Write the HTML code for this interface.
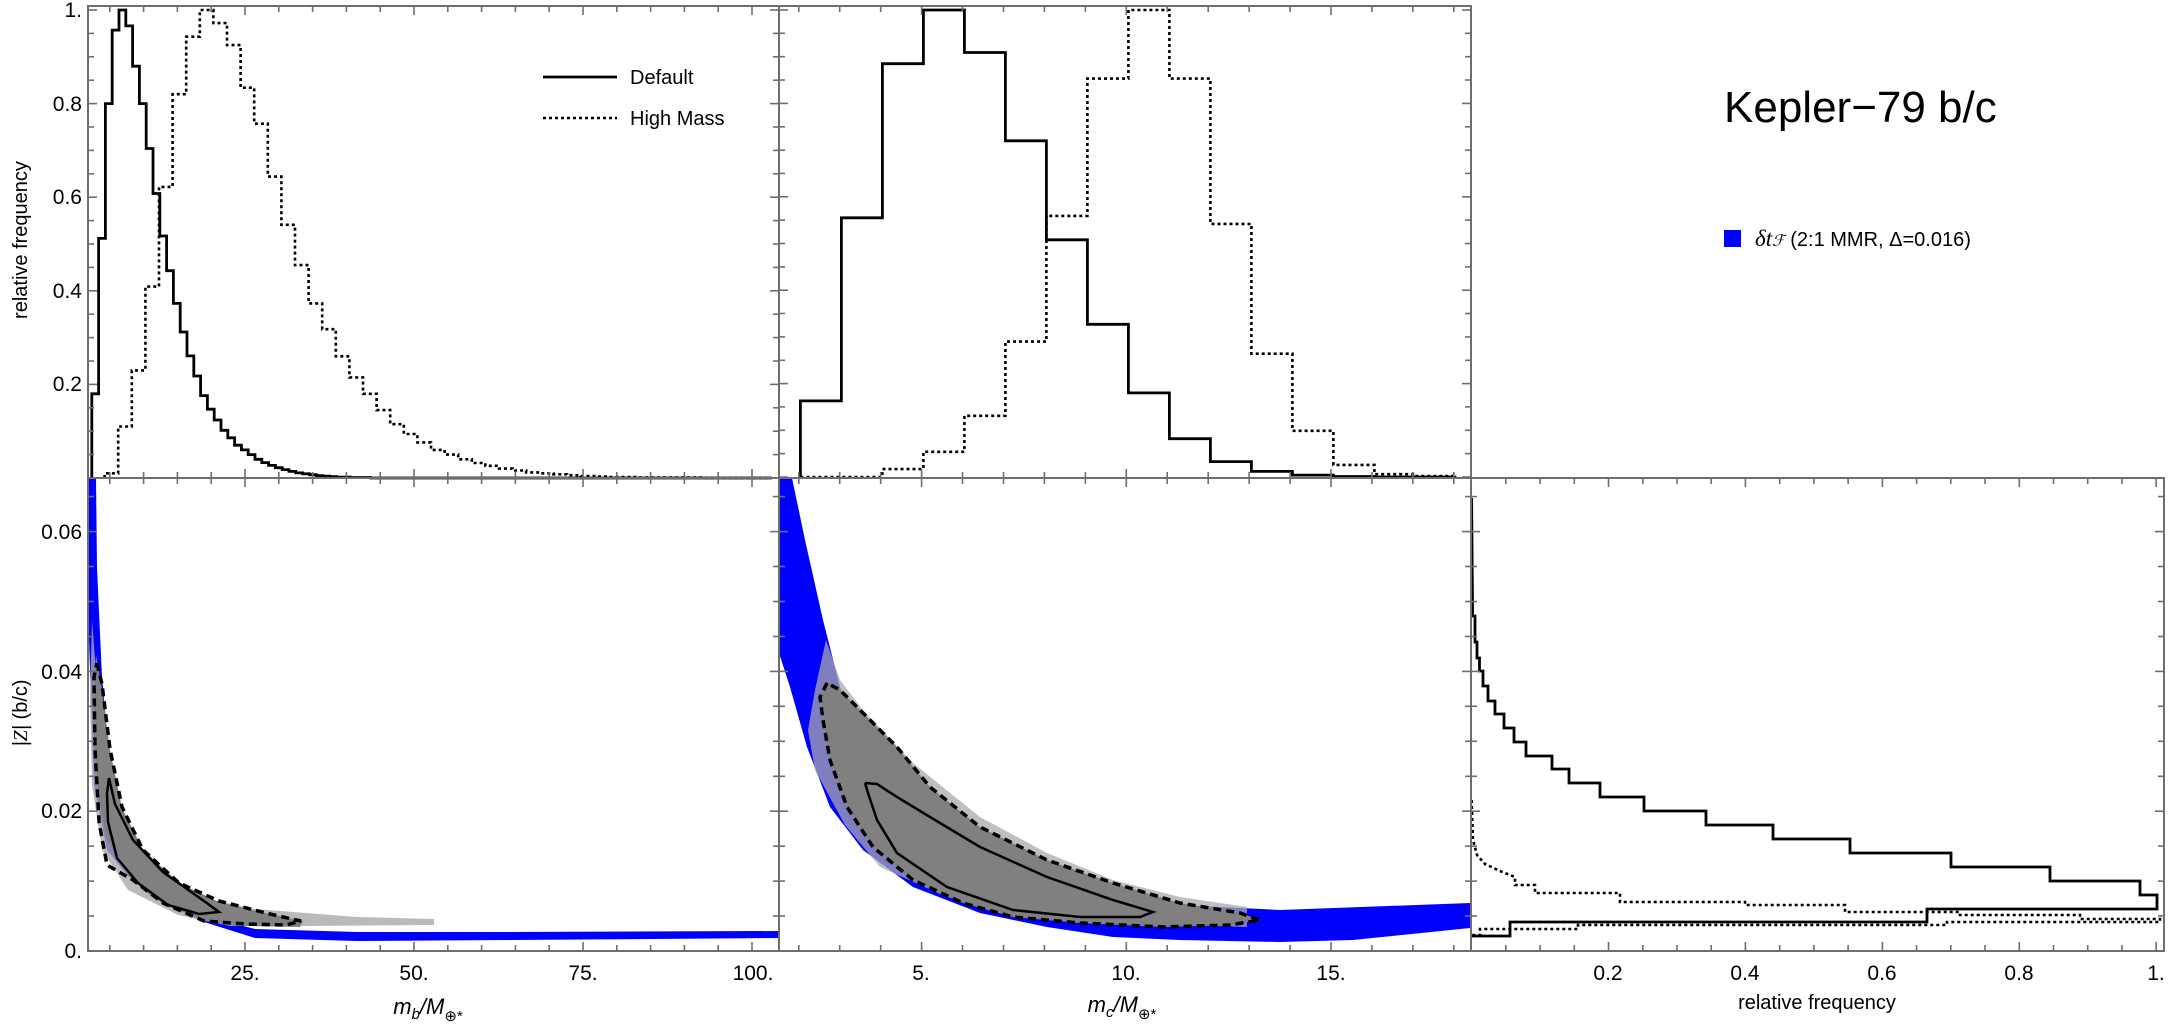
<!DOCTYPE html>
<html><head><meta charset="utf-8"><style>
html,body{margin:0;padding:0;background:#fff;}
svg{display:block;font-family:"Liberation Sans",sans-serif;}
</style></head><body>
<svg id="s" width="2169" height="1027" viewBox="0 0 2169 1027" xmlns="http://www.w3.org/2000/svg">
<rect width="2169" height="1027" fill="#fff"/>
<g id="bl">
<polygon fill="#0000ff" points="88,478 96,478 97,568 102,677 112,785 128,840 153,880 204,916 255,929 357,932 510,932 779,931 779,938 510,940 357,941 255,938 204,922 153,898 128,876 107,850 94,785 89,640 88,570"/>
<polygon fill="#a9a9a9" opacity="0.8" points="92,620 102,750 117,822 153,872 204,898 255,909 357,917 434,919 434,925 306,926 230,926 178,915 128,890 102,850 92,785 90,700"/>
<polygon fill="#808080" points="96,655 102,690 110,750 122,808 143,850 179,883 219,902 270,914 303,921 300,927 245,926 204,921 163,903 133,877 107,840 99,800 95,750 94,690"/>
<polyline fill="none" stroke="#000" stroke-width="3.5" stroke-dasharray="8 5" points="97,663 102,684 110,749 122,807 143,850 179,883 219,901 270,914 301,921 286,925 245,924 204,921 163,903 133,880 107,865 99,822 95,749 94,677 97,663"/>
<polyline fill="none" stroke="#000" stroke-width="2.5" points="109,778 115,804 133,840 163,872 204,901 219,912 199,914 168,905 138,883 117,858 108,822 107,793 109,778"/>
</g>
<g id="bm">
<polygon fill="#0000ff" points="779,478 792,478 805,540 823,620 840,687 867,753 913,807 980,847 1047,873 1113,893 1180,905 1280,910 1470,903 1470,928 1353,940 1280,942 1180,940 1113,937 1047,927 980,913 913,887 863,850 830,807 807,747 790,687 779,653"/>
<polygon fill="#a9a9a9" opacity="0.75" points="826,640 840,680 863,710 913,763 980,817 1047,853 1113,880 1180,897 1247,907 1247,927 1113,923 1013,913 947,897 880,867 845,825 815,770 808,730 815,690"/>
<polygon fill="#808080" points="827,683 820,697 823,720 830,760 847,807 873,847 913,880 963,903 1013,917 1080,923 1163,927 1230,925 1260,920 1240,913 1180,903 1113,883 1047,860 980,827 930,787 897,747 867,717 840,690"/>
<polyline fill="none" stroke="#000" stroke-width="3.5" stroke-dasharray="8 5" points="827,683 820,697 823,720 830,760 847,807 873,847 913,880 963,903 1013,917 1080,923 1163,927 1230,925 1260,920 1240,913 1180,903 1113,883 1047,860 980,827 930,787 897,747 867,717 840,690 827,683"/>
<polyline fill="none" stroke="#000" stroke-width="2.5" points="865,783 877,784 897,797 930,817 980,847 1047,877 1113,900 1153,912 1140,917 1080,917 1013,910 947,887 897,853 877,820 868,793 865,783"/>
</g>
<polyline fill="none" stroke="#000" stroke-width="2.8" points="1471.6,498 1472.6,616 1475,616 1475,642 1477,642 1477,658 1479.5,658 1479.5,671 1483,671 1483,686 1488,686 1488,701 1495,701 1495,714 1504,714 1504,728 1514,728 1514,742 1526,742 1526,756 1552,756 1552,769 1569,769 1569,783 1600,783 1600,797 1644,797 1644,811 1706,811 1706,825 1773,825 1773,839 1850,839 1850,853 1951,853 1951,867 2050,867 2050,881 2140,881 2140,895 2157,895 2157,909 1927,909 1927,922 1510,922 1510,936 1471,936"/>
<polyline fill="none" stroke="#000" stroke-width="2.6" stroke-dasharray="3 3" points="1471.6,800 1473,840 1477,855 1485,864 1500,871 1515,877 1515,885 1535,885 1535,893 1620,893 1620,902 1745,902 1745,905 1845,905 1845,912 1960,912 1960,915 2080,915 2080,919 2160,919 2160,922 1947,922 1947,925 1578,925 1578,929 1480,929 1480,935 1471,935"/>
<g id="gen"></g>
<text x="1724" y="122" font-size="44" fill="#000">Kepler−79 b/c</text>
<rect x="1724" y="230" width="17" height="17" fill="#0000ff"/>
<text x="1755" y="246" font-size="20" fill="#000"><tspan font-family="Liberation Serif,serif" font-style="italic" font-size="23">δt</tspan><tspan font-family="Liberation Serif,serif" font-style="italic" font-size="16">ℱ</tspan> (2:1 MMR, Δ=0.016)</text>
<line x1="543" y1="77" x2="617" y2="77" stroke="#000" stroke-width="2.8"/>
<line x1="543" y1="118" x2="617" y2="118" stroke="#000" stroke-width="2.6" stroke-dasharray="3 3"/>
<text x="630" y="84" font-size="20">Default</text>
<text x="630" y="125" font-size="20">High Mass</text>
<text transform="translate(27,240) rotate(-90)" text-anchor="middle" font-size="20">relative frequency</text>
<text transform="translate(27,713) rotate(-90)" text-anchor="middle" font-size="20"><tspan font-style="italic">|<tspan font-family="Liberation Serif,serif">Z</tspan>|</tspan> (b/c)</text>
<text x="428" y="1014" text-anchor="middle" font-size="22" font-style="italic">m<tspan font-size="15" dy="5">b</tspan><tspan dy="-5">/M</tspan><tspan font-size="15" dy="7" font-style="normal">⊕*</tspan></text>
<text x="1122" y="1012" text-anchor="middle" font-size="22" font-style="italic">m<tspan font-size="15" dy="5">c</tspan><tspan dy="-5">/M</tspan><tspan font-size="15" dy="7" font-style="normal">⊕*</tspan></text>
<text x="1817" y="1009" text-anchor="middle" font-size="20">relative frequency</text>
</svg>
<script>
(function(){
var g=document.getElementById('gen'),h='';
function hist(x0,w,vals,yb,ys,dash){var p=[[x0,yb]],x=x0;for(var i=0;i<vals.length;i++){var y=yb-vals[i]*ys;p.push([x,y]);x+=w;p.push([x,y]);}p.push([x,yb]);
h+='<polyline fill="none" stroke="#000" stroke-width="'+(dash?2.6:2.8)+'" '+(dash?'stroke-dasharray="3 3" ':'')+'points="'+p.map(function(a){return a[0].toFixed(1)+','+a[1].toFixed(1)}).join(' ')+'"/>';}
var d1=[0.18,0.512,0.80,0.957,1.0,0.966,0.88,0.80,0.704,0.608,0.517,0.443,0.373,0.312,0.261,0.218,0.176,0.147,0.124,0.102,0.086,0.07,0.06,0.05,0.04,0.033,0.027,0.022,0.018,0.014,0.011,0.009,0.007,0.005,0.004,0.003,0.002,0.002,0.001,0.001,0.001];
while(d1.length<100)d1.push(0);
hist(91.8,6.8,d1,478,468,false);
var h1=[0.01,0.11,0.23,0.409,0.622,0.82,0.943,1.0,0.972,0.925,0.834,0.757,0.644,0.541,0.455,0.373,0.318,0.26,0.215,0.18,0.145,0.115,0.094,0.076,0.06,0.05,0.04,0.032,0.026,0.02,0.016,0.012,0.01,0.008,0.006,0.004,0.003,0.002,0.002,0.001,0.001,0.001,0.001,0.001,0,0,0,0,0];
hist(104.6,13.6,h1,478,468,true);
var d2=[0.163,0.555,0.885,1.0,0.909,0.72,0.508,0.327,0.18,0.082,0.033,0.012,0.004,0.001,0,0];
hist(800.4,41,d2,477,467,false);
var h2=[0,0,0.017,0.054,0.131,0.29,0.559,0.853,1.0,0.853,0.542,0.264,0.099,0.026,0.006,0.002];
hist(800.4,41,h2,477,467,true);
var fc='#6e6e6e';
function frame(x0,y0,x1,y1){h+='<rect x="'+x0+'" y="'+y0+'" width="'+(x1-x0)+'" height="'+(y1-y0)+'" fill="none" stroke="'+fc+'" stroke-width="2"/>';}
function tk(x1,y1,x2,y2){h+='<line x1="'+x1.toFixed(1)+'" y1="'+y1.toFixed(1)+'" x2="'+x2.toFixed(1)+'" y2="'+y2.toFixed(1)+'" stroke="'+fc+'" stroke-width="1.6"/>';}
function xt(x0,x1,ytop,ybot,start,step,px,majEvery){for(var i=0;;i++){var x=start+i*px;if(x>x1-1)break;if(x<x0+1)continue;var L=(i%majEvery==0)?9:6;tk(x,ybot,x,ybot-L);tk(x,ytop,x,ytop+L);}}
function yt(y0,y1,xl,xr,start,px,majEvery,left,right){for(var i=0;;i++){var y=start-i*px;if(y<y0+1)break;if(y>y1-1)continue;var L=(i%majEvery==0)?9:6;if(left)tk(xl,y,xl+L,y);if(right)tk(xr,y,xr-L,y);}}
function lab(x,y,t,a){h+='<text x="'+x+'" y="'+y+'" font-size="21" text-anchor="'+a+'">'+t+'</text>';}
var mbx=function(v){return 245+(v-25)*6.76;};
frame(88,6,779,478);frame(779,6,1471,478);frame(88,478,779,951);frame(779,478,1471,951);frame(1471,478,2164,951);
xt(88,779,6,478,mbx(0),5,33.8,5);xt(88,779,478,951,mbx(0),5,33.8,5);
yt(6,478,88,779,478,23.4,4,true,true);
yt(6,478,779,1471,477,23.35,4,true,true);
var mcx=function(v){return 921.6+(v-5)*40.94;};
xt(779,1471,6,478,mcx(0),1,40.94,5);xt(779,1471,478,951,mcx(0),1,40.94,5);
yt(478,951,88,779,951,34.95,4,true,true);yt(478,951,779,1471,951,34.95,4,true,true);yt(478,951,1471,2164,951,34.95,4,true,true);
xt(1471,2164,478,951,1471.6,1,34.23,4);
lab(82,17,'1.','end');lab(82,111,'0.8','end');lab(82,204,'0.6','end');lab(82,298,'0.4','end');lab(82,391,'0.2','end');
lab(82,539,'0.06','end');lab(82,679,'0.04','end');lab(82,818,'0.02','end');lab(82,958,'0.','end');
lab(245,980,'25.','middle');lab(414,980,'50.','middle');lab(583,980,'75.','middle');lab(753,980,'100.','middle');
lab(921,980,'5.','middle');lab(1126,980,'10.','middle');lab(1331,980,'15.','middle');
lab(1608,980,'0.2','middle');lab(1745,980,'0.4','middle');lab(1882,980,'0.6','middle');lab(2019,980,'0.8','middle');lab(2156,980,'1.','middle');
g.innerHTML=h;
})();
</script>
</body></html>
